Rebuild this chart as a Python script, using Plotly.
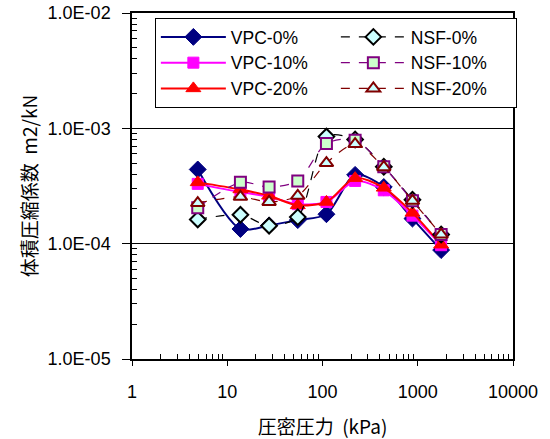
import plotly.graph_objects as go

pressure = [4.9, 13.75, 27.5, 55, 110, 220, 440, 880, 1760]

vpc0 = [4.4e-4, 1.34e-4, 1.44e-4, 1.6e-4, 1.8e-4, 3.95e-4, 3.1e-4, 1.65e-4, 8.8e-5]
vpc10 = [3.3e-4, 2.8e-4, 2.55e-4, 2.2e-4, 2.3e-4, 3.5e-4, 2.9e-4, 1.75e-4, 9.7e-5]
vpc20 = [3.4e-4, 2.95e-4, 2.6e-4, 2.15e-4, 2.3e-4, 3.7e-4, 3.05e-4, 1.85e-4, 9.8e-5]
nsf0 = [1.62e-4, 1.78e-4, 1.43e-4, 1.7e-4, 8.5e-4, 8.0e-4, 4.65e-4, 2.4e-4, 1.2e-4]
nsf10 = [2.05e-4, 3.4e-4, 3.1e-4, 3.5e-4, 7.4e-4, 7.9e-4, 4.65e-4, 2.35e-4, 1.2e-4]
nsf20 = [2.25e-4, 2.55e-4, 2.3e-4, 2.6e-4, 5.0e-4, 7.3e-4, 4.6e-4, 2.35e-4, 1.2e-4]

x_ticks = [1, 10, 100, 1000, 10000]
x_ticktext = ["1", "10", "100", "1000", "10000"]
y_ticks = [1e-5, 1e-4, 1e-3, 1e-2]
y_ticktext = ["1.0E-05", "1.0E-04", "1.0E-03", "1.0E-02"]

x_minor = [m * 10 ** d for d in range(0, 4) for m in range(2, 10)]
y_minor = [m * 10 ** d for d in range(-5, -2) for m in range(2, 10)]

fig = go.Figure()

def add(name, y, color, symbol, fill, dash, width, size, rank, lw=1):
    fig.add_trace(go.Scatter(
        x=pressure, y=y, name=name, mode="lines+markers",
        line=dict(color=color, width=width, dash=dash, shape="spline", smoothing=0.8),
        marker=dict(symbol=symbol, size=size, color=fill, line=dict(color=color, width=lw)),
        legendrank=rank,
    ))

add("VPC-0%", vpc0, "#000080", "diamond", "#000080", "solid", 2, 13, 1)
add("VPC-10%", vpc10, "#FF00FF", "square", "#FF00FF", "solid", 2, 11, 3)
add("VPC-20%", vpc20, "#FF0000", "triangle-up", "#FF0000", "solid", 2, 13, 5)
add("NSF-0%", nsf0, "#000000", "diamond", "#CCFFFF", "dash", 1.2, 12, 2, 2)
add("NSF-10%", nsf10, "#800080", "square", "#CCFFCC", "dash", 1.2, 11, 4, 2)
add("NSF-20%", nsf20, "#800000", "triangle-up", "#CCFFFF", "dash", 1.2, 12, 6, 2)

font_family = "Liberation Sans, Arial, Noto Sans CJK JP, sans-serif"
cjk_family = "Noto Sans CJK JP, Liberation Sans, sans-serif"

fig.update_layout(
    width=550, height=439,
    margin=dict(l=132, r=37, t=13, b=80, autoexpand=False),
    paper_bgcolor="white", plot_bgcolor="white",
    font=dict(family=font_family, size=18, color="black"),
    showlegend=True,
    legend=dict(
        orientation="h", x=0.060, y=0.9855, xanchor="left", yanchor="top",
        bgcolor="white", bordercolor="black", borderwidth=1,
        entrywidth=100, font=dict(size=17.5), itemwidth=65,
    ),
    xaxis=dict(
        type="log", range=[0, 4], automargin=False,
        tickvals=x_ticks, ticktext=x_ticktext,
        ticks="outside", ticklen=5, tickcolor="black", tickwidth=1,
        ticklabelstandoff=11, ticklabeloverflow="allow",
        showline=True, linecolor="black", linewidth=1.5, mirror=True,
        showgrid=False, zeroline=False,
        minor=dict(tickvals=x_minor, ticks="inside", ticklen=5, tickcolor="black", showgrid=False),
        title=dict(text="圧密圧力  (kPa)", font=dict(size=19, family=cjk_family), standoff=19),
        tickfont=dict(size=18),
    ),
    yaxis=dict(
        type="log", range=[-5, -2], automargin=False,
        tickvals=y_ticks, ticktext=y_ticktext,
        ticks="outside", ticklen=8, tickcolor="black", tickwidth=1,
        ticklabelstandoff=8, ticklabeloverflow="allow",
        showline=True, linecolor="black", linewidth=1.5, mirror=True,
        showgrid=True, gridcolor="black", gridwidth=1, zeroline=False,
        minor=dict(tickvals=y_minor, ticks="inside", ticklen=5, tickcolor="black", showgrid=False),
        title=dict(text="体積圧縮係数  m2/kN", font=dict(size=19, family=cjk_family), standoff=5),
        tickfont=dict(size=18),
    ),
)

fig.write_html("out.html", config={"displayModeBar": False},
               post_script="document.body.style.margin='0';")
